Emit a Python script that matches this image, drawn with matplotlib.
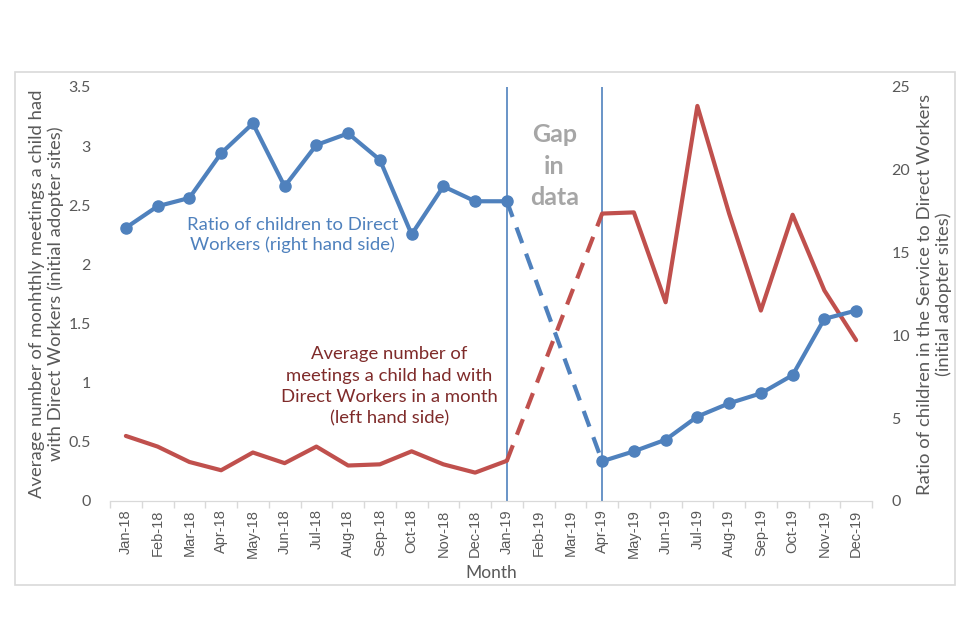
import numpy as np
import matplotlib
matplotlib.use('Agg')
import matplotlib.pyplot as plt
from matplotlib.patches import Rectangle

# Month categories
months = ['Jan-18', 'Feb-18', 'Mar-18', 'Apr-18', 'May-18', 'Jun-18',
          'Jul-18', 'Aug-18', 'Sep-18', 'Oct-18', 'Nov-18', 'Dec-18',
          'Jan-19', 'Feb-19', 'Mar-19', 'Apr-19', 'May-19', 'Jun-19',
          'Jul-19', 'Aug-19', 'Sep-19', 'Oct-19', 'Nov-19', 'Dec-19']

# Average monthly meetings per child (left axis), NaN = gap in data
meetings = [0.55, 0.46, 0.33, 0.26, 0.41, 0.32, 0.46, 0.30, 0.31, 0.42, 0.31, 0.24,
            0.34, np.nan, np.nan, 2.43, 2.44, 1.68, 3.34, 2.43, 1.61, 2.42, 1.78, 1.36]

# Ratio of children to Direct Workers (right axis)
ratio = [16.5, 17.8, 18.3, 21.0, 22.8, 19.0, 21.5, 22.2, 20.6, 16.1, 19.0, 18.1,
         18.1, np.nan, np.nan, 2.4, 3.0, 3.7, 5.1, 5.9, 6.5, 7.6, 11.0, 11.5]

gap_start, gap_end = 12, 15  # Jan-19 and Apr-19

BLUE = '#4F81BD'
RED = '#C0504D'
GREY = '#595959'

plt.rcParams['font.family'] = ['Lato', 'DejaVu Sans']

x = np.arange(len(months))
meetings = np.array(meetings)
ratio = np.array(ratio)

fig = plt.figure(figsize=(9.6, 6.4), dpi=100)
# chart border
fig.patches.append(Rectangle((15 / 960, 1 - 585 / 640), 940 / 960, 513 / 640,
                             transform=fig.transFigure, fill=False,
                             edgecolor='#d9d9d9', linewidth=1.2))

ax = fig.add_axes([110 / 960, 1 - 501 / 640, 762 / 960, 414 / 640])
ax2 = ax.twinx()

# red series on left axis
ax.plot(x, meetings, color=RED, linewidth=3, solid_capstyle='round', zorder=3)
ax.plot([x[gap_start], x[gap_end]], [meetings[gap_start], meetings[gap_end]],
        color=RED, linewidth=3, linestyle=(0, (4, 2.7)), zorder=3)

# blue series on right axis
ax2.plot(x, ratio, color=BLUE, linewidth=3, marker='o', markersize=8, zorder=3)
ax2.plot([x[gap_start], x[gap_end]], [ratio[gap_start], ratio[gap_end]],
         color=BLUE, linewidth=3, linestyle=(0, (4, 2.7)), zorder=3)

# gap markers
for g in (gap_start, gap_end):
    ax.axvline(x[g], color=BLUE, linewidth=1.2, zorder=2)

ax.set_xlim(-0.5, len(months) - 0.5)
ax.set_ylim(0, 3.5)
ax2.set_ylim(0, 25)
ax.set_yticks(np.arange(0, 3.51, 0.5))
ax.set_yticklabels(['0', '0.5', '1', '1.5', '2', '2.5', '3', '3.5'])
ax2.set_yticks(np.arange(0, 26, 5))

ax.set_xticks(x)
ax.set_xticklabels(months, rotation=90, family=['Liberation Sans', 'DejaVu Sans'],
                   fontsize=10.5, color=GREY)
ax.set_xticks(np.arange(-0.5, len(months)), minor=True)
ax.tick_params(axis='x', which='major', length=0, pad=6)
ax.tick_params(axis='x', which='minor', length=5, color='#d9d9d9', width=1)

for a in (ax, ax2):
    for s in ('top', 'left', 'right'):
        a.spines[s].set_visible(False)
    a.spines['bottom'].set_color('#d9d9d9')
    a.tick_params(axis='y', length=0, labelsize=11.5, labelcolor=GREY)
ax.tick_params(axis='y', pad=14)
ax2.tick_params(axis='y', pad=14)

ax.set_xlabel('Month', fontsize=12.5, color=GREY, labelpad=5)
ax.set_ylabel('Average number of monhthly meetings a child had\nwith Direct Workers (initial adopter sites)',
              fontsize=13.3, color=GREY, labelpad=3, linespacing=1.15)
ax2.set_ylabel('Ratio of children in the Service to Direct Workers\n(initial adopter sites)',
               fontsize=13.3, color=GREY, labelpad=5, linespacing=1.15)

ax.text(5.25, 2.25, 'Ratio of children to Direct\nWorkers (right hand side)',
        color=BLUE, fontsize=13.3, ha='center', va='center', linespacing=1.3)
ax.text(8.3, 0.97, 'Average number of\nmeetings a child had with\nDirect Workers in a month\n(left hand side)',
        color='#7F2B2A', fontsize=13.3, ha='center', va='center', linespacing=1.4)
ax.text(13.5, 2.83, 'Gap\nin\ndata', color='#A6A6A6', fontsize=18, fontweight='bold',
        ha='center', va='center', linespacing=1.45)

fig.savefig('out.png', dpi=100)
